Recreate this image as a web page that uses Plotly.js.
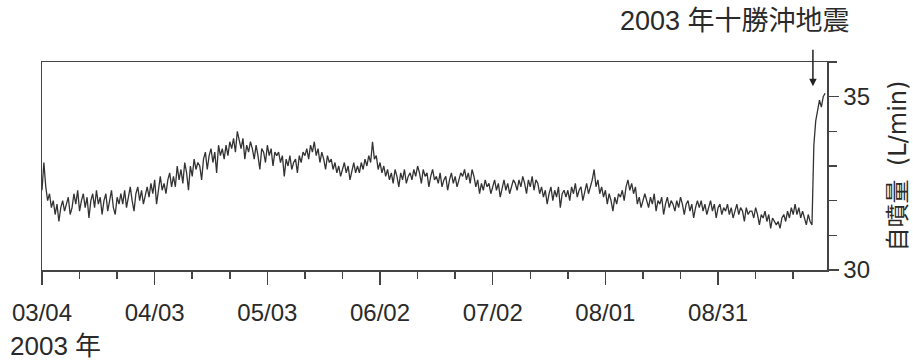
<!DOCTYPE html>
<html>
<head>
<meta charset="utf-8">
<script src="https://cdn.plot.ly/plotly-3.0.1.min.js"></script>
<style>
  html, body { margin: 0; padding: 0; background: #fff; }
  #chart { width: 913px; height: 360px; }
</style>
</head>
<body>
<div id="chart"></div>
<script>
// Flow series: one reading every 12 hours starting 2003-03-04 00:00
const seriesStart = '2003-03-04T00:00:00';
const stepHours = 12;
const flowValues = [
  32.3, 33.1, 32.4, 32.0, 32.2, 31.8, 32.0, 31.6, 31.9, 31.4, 31.8, 32.0, 31.7, 31.9,
  32.1, 31.6, 31.8, 32.2, 31.9, 32.3, 31.7, 32.0, 32.2, 31.8, 32.1, 31.5, 32.0, 32.2,
  31.8, 32.3, 31.9, 32.1, 31.6, 32.0, 32.2, 31.7, 32.0, 32.3, 31.8, 31.6, 32.1, 31.9,
  32.2, 31.9, 32.3, 31.8, 32.1, 32.4, 32.0, 31.7, 32.2, 32.4, 32.0, 32.3, 31.9, 32.2,
  32.4, 32.1, 32.5, 32.2, 32.6, 31.9, 32.4, 32.7, 32.3, 32.5, 32.2, 32.6, 32.8, 32.4,
  32.7, 32.4, 33.0, 32.6, 32.9, 32.5, 33.1, 32.8, 32.3, 33.0, 32.7, 33.2, 32.9, 33.1,
  33.0, 32.6, 33.2, 33.4, 32.9, 33.3, 33.5, 33.1, 33.4, 32.8, 33.6, 33.3, 33.5, 33.2,
  33.6, 33.3, 33.7, 33.5, 33.8, 33.4, 34.0, 33.7, 33.5, 33.8, 33.2, 33.6, 33.4, 33.7,
  33.5, 33.2, 33.6, 33.3, 32.9, 33.5, 33.4, 33.1, 33.6, 33.3, 33.5, 33.0, 33.4, 33.3,
  33.4, 33.1, 33.3, 32.7, 33.2, 33.0, 33.3, 32.9, 33.1, 33.2, 32.8, 33.3, 33.1, 33.4,
  33.3, 33.5, 33.2, 33.6, 33.4, 33.7, 33.3, 33.5, 33.1, 33.4, 33.2, 32.9, 33.3, 33.1,
  33.2, 32.9, 33.1, 32.8, 33.0, 32.7, 32.9, 33.1, 32.8, 33.0, 32.6, 32.9, 33.1, 32.8,
  33.0, 32.8, 33.1, 32.9, 33.2, 33.0, 33.3, 33.1, 33.7, 33.2, 33.3, 32.9, 33.1, 32.8,
  33.0, 32.7, 32.9, 32.6, 32.8, 32.5, 32.9, 32.7, 32.4, 32.8, 32.6, 32.9, 32.5, 32.7,
  32.8, 32.6, 32.9, 32.7, 33.0, 32.8, 32.5, 32.9, 32.7, 32.8, 32.4, 32.7, 32.9, 32.6,
  32.7, 32.5, 32.8, 32.4, 32.6, 32.7, 32.3, 32.6, 32.8, 32.5, 32.7, 32.4, 32.6, 32.8,
  32.7, 32.9, 32.6, 32.8, 32.5, 32.9, 32.7, 32.4, 32.6, 32.2, 32.5, 32.3, 32.6, 32.4,
  32.5, 32.2, 32.4, 32.6, 32.3, 32.5, 32.1, 32.4, 32.6, 32.3, 32.5, 32.2, 32.4, 32.6,
  32.5, 32.3, 32.6, 32.4, 32.7, 32.5, 32.2, 32.6, 32.4, 32.7, 32.3, 32.6, 32.5, 32.2,
  32.4, 32.1, 32.3, 31.9, 32.2, 32.4, 32.0, 32.3, 32.1, 32.4, 31.8, 32.2, 32.3, 32.1,
  32.3, 32.0, 32.4, 32.2, 32.5, 32.1, 32.3, 32.4, 32.0, 32.3, 32.5, 32.2, 32.4, 32.6,
  32.9, 32.4, 32.6, 32.2, 32.4, 32.1, 32.3, 31.9, 32.2, 32.0, 31.7, 32.1, 31.9, 32.2,
  32.1, 32.3, 32.0, 32.4, 32.6, 32.3, 32.5, 32.2, 32.4, 31.9, 32.1, 31.8, 32.0, 32.2,
  32.0, 31.8, 32.1, 31.9, 32.2, 31.7, 32.0, 31.9, 32.1, 31.6, 31.9, 32.1, 31.8, 32.0,
  31.9, 31.7, 32.0, 31.8, 32.1, 31.9, 31.6, 31.9, 32.0, 31.7, 31.9, 31.5, 31.8, 32.0,
  31.8, 32.0, 31.7, 31.9, 31.6, 31.8, 32.0, 31.7, 31.9, 31.5, 31.8, 31.9, 31.6, 31.8,
  31.7, 31.9, 31.6, 31.8, 31.5, 31.7, 31.9, 31.6, 31.8, 31.7, 31.4, 31.8, 31.6, 31.7,
  31.7, 31.5, 31.8, 31.6, 31.3, 31.6, 31.5, 31.7, 31.4, 31.6, 31.2, 31.5, 31.4, 31.3,
  31.4, 31.2, 31.5, 31.6, 31.4, 31.7, 31.5, 31.8, 31.6, 31.9, 31.6, 31.8, 31.5, 31.7,
  31.5, 31.3, 31.6, 31.4, 31.3, 33.6, 34.3, 34.6, 34.9, 34.7, 35.0, 35.1
];

const xTickDates = ['2003-03-04', '2003-04-03', '2003-05-03', '2003-06-02', '2003-07-02', '2003-08-01', '2003-08-31'];
const xTickLabels = ['03/04', '04/03', '05/03', '06/02', '07/02', '08/01', '08/31'];
const xRange = ['2003-03-04', '2003-09-29'];
const yTickVals = [30, 35];
const yTickLabels = ['30', '35'];
const yRange = [30, 36];
const quakeDate = '2003-09-25T06:00:00';
const quakeLabel = '2003 年十勝沖地震';
const yearLabel = '2003 年';
const yTitleMain = '自噴量';
const yTitleUnit = '(L/min)';

const t0 = new Date(seriesStart + 'Z').getTime();
function fmt(ms) {
  const d = new Date(ms);
  const p = n => String(n).padStart(2, '0');
  return d.getUTCFullYear() + '-' + p(d.getUTCMonth() + 1) + '-' + p(d.getUTCDate()) + ' ' + p(d.getUTCHours()) + ':00';
}
const flowDates = flowValues.map((_, i) => fmt(t0 + i * stepHours * 3600000));

const FONT = '"Liberation Sans", Arial, "Noto Sans CJK JP", sans-serif';
const INK = '#2a2a2a';

const trace = {
  type: 'scatter',
  mode: 'lines',
  x: flowDates,
  y: flowValues,
  line: { color: '#333333', width: 1.3 },
  hoverinfo: 'x+y'
};

const layout = {
  width: 913,
  height: 360,
  margin: { l: 42, r: 86, t: 62, b: 90 },
  paper_bgcolor: '#ffffff',
  plot_bgcolor: '#ffffff',
  showlegend: false,
  font: { family: FONT, color: INK, size: 24 },
  xaxis: {
    type: 'date',
    range: xRange,
    tickmode: 'array',
    tickvals: xTickDates,
    ticktext: xTickLabels,
    ticks: 'outside',
    ticklen: 13,
    tickwidth: 1.5,
    tickcolor: '#444',
    minor: { dtick: 10 * 86400000, tick0: '2003-03-04', ticks: 'outside', ticklen: 7, tickwidth: 1.5, tickcolor: '#444', showgrid: false },
    showline: true,
    linecolor: '#444',
    linewidth: 1.5,
    mirror: true,
    showgrid: false,
    zeroline: false,
    tickfont: { family: FONT, size: 24, color: INK },
    ticklabelstandoff: 8
  },
  yaxis: {
    side: 'right',
    range: yRange,
    tickmode: 'array',
    tickvals: yTickVals,
    ticktext: yTickLabels,
    ticks: 'outside',
    ticklen: 10,
    tickwidth: 1.5,
    tickcolor: '#444',
    minor: { dtick: 1, tick0: 30, ticks: 'outside', ticklen: 8, tickwidth: 1.5, tickcolor: '#444', showgrid: false },
    showline: true,
    linecolor: '#444',
    linewidth: 1.5,
    mirror: true,
    showgrid: false,
    zeroline: false,
    tickfont: { family: FONT, size: 24, color: INK },
    title: {
      text: yTitleMain + '  <span style="font-family:\'DejaVu Sans\';font-size:24px">' + yTitleUnit + '</span>',
      font: { family: FONT, size: 24, color: INK },
      standoff: 20
    }
  },
  annotations: [
    {
      xref: 'x', yref: 'y',
      x: quakeDate, y: 35.3,
      text: '',
      showarrow: true,
      arrowhead: 2,
      arrowsize: 1,
      arrowwidth: 1.5,
      arrowcolor: '#222',
      ax: 0, ay: -38
    },
    {
      xref: 'paper', yref: 'paper',
      x: (735 - 42) / 785, y: (270 - 21) / 208,
      xanchor: 'center', yanchor: 'middle',
      text: quakeLabel,
      showarrow: false,
      font: { family: FONT, size: 27, color: INK }
    },
    {
      xref: 'paper', yref: 'paper',
      x: (8 - 42) / 785, y: (270 - 346) / 208,
      xanchor: 'left', yanchor: 'middle',
      text: yearLabel,
      showarrow: false,
      font: { family: FONT, size: 26, color: INK }
    }
  ]
};

Plotly.newPlot('chart', [trace], layout, { staticPlot: true, displayModeBar: false });
</script>
</body>
</html>
